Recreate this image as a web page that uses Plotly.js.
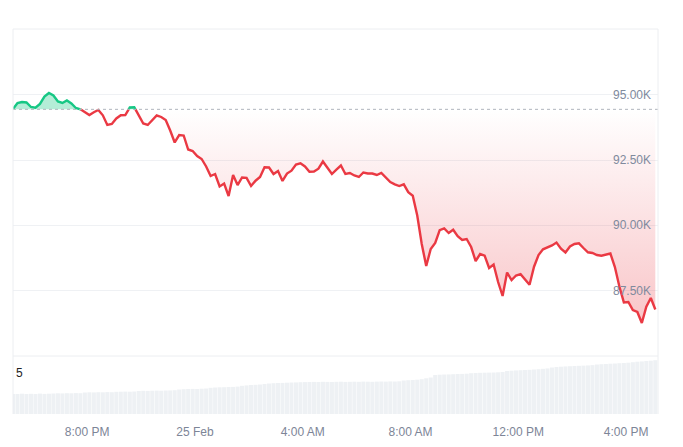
<!DOCTYPE html>
<html>
<head>
<meta charset="utf-8">
<script src="https://cdn.plot.ly/plotly-3.0.1.min.js"></script>
<style>html,body{margin:0;padding:0;background:#fff;}#chart{width:683px;height:447px;}</style>
</head>
<body>
<div id="chart"></div>
<script>
// ---- data (10-minute samples, 24 Feb 2025 17:15 -> 25 Feb 2025 17:05) ----
const startTime = "2025-02-24 17:15";
const stepMinutes = 10;
const prices = [
 94463,94693,94732,94712,94540,94513,94655,94942,95077,94981,
 94751,94693,94789,94674,94502,94452,94348,94233,94337,94425,
 94222,93850,93888,94099,94222,94233,94521,94530,94233,93907,
 93850,94042,94214,94157,94042,93639,93179,93466,93447,92910,
 92853,92661,92546,92259,91894,91971,91492,91607,91128,91933,
 91549,91837,91825,91511,91714,91856,92228,92220,91971,92086,
 91703,91990,92098,92335,92381,92259,92059,92067,92174,92450,
 92201,91971,92140,92297,91971,92009,91914,91856,92029,91990,
 91990,91933,92009,91818,91664,91576,91511,91576,91273,91139,
 90380,89287,88444,89096,89326,89816,89882,89709,89832,89586,
 89441,89479,89172,88635,88904,88842,88367,88501,87830,87294,
 88195,87907,88080,88130,87945,87723,88417,88866,89084,89161,
 89234,89345,89111,88961,89192,89287,89314,89134,88969,88942,
 88866,88839,88877,88923,88405,87658,87048,87064,86757,86680,
 86258,86883,87217,86776
];
const volumes = [
 20,20,20.3,20,20.2,20,20.4,20.1,20.3,20.5,
 20.7,20.6,20.8,20.7,20.9,20.8,
 21.5,21.7,21.6,21.8,21.7,21.9,21.8,
 22.2,22.3,22.4,22.3,22.5,
 23,23.2,23.1,23.3,23.4,23.3,23.5,23.6,23.8,
 24.5,24.8,25,25.1,25,25.3,25.5,
 26.2,26.5,26.7,26.8,27,27.1,27.4,
 28.2,28.6,29,29.2,29.5,30,
 30.5,30.8,31,31.1,31.3,31.5,31.6,31.8,
 31.9,32,32.1,32,32.2,32.1,32,32.2,32.3,32.1,32.2,32.3,32.2,32.4,32.3,32.2,32.4,32.5,32.4,32.6,32.5,32.7,
 33.5,33.8,34,34.3,34.8,
 35.7,36.5,
 39,39.3,39.5,39.6,39.8,40,40.1,40.3,
 40.8,41,41.2,41.3,41.4,41.5,41.7,42,
 43,43.3,43.6,43.8,44,44.2,44.5,44.8,45.2,45.6,
 46.5,47,47.3,47.6,47.8,48,48.2,48.4,48.6,48.9,
 49.5,49.8,50,50.3,50.5,50.8,51,51.3,51.8,
 52.3,52.6,53,53.3,53.8
];
const baseline = 94450;
const xTickVals = ["2025-02-24 20:00","2025-02-25 00:00","2025-02-25 04:00","2025-02-25 08:00","2025-02-25 12:00","2025-02-25 16:00"];
const xTickText = ["8:00 PM","25 Feb","4:00 AM","8:00 AM","12:00 PM","4:00 PM"];
const yTickVals = [87500, 90000, 92500, 95000];
const yTickText = ["87.50K","90.00K","92.50K","95.00K"];
const volumeLabel = "5";

// ---- build time axis ----
const t0 = Date.UTC(2025,1,24,17,15);
const times = prices.map((_, i) => t0 + i * stepMinutes * 60000);

// split into above / below baseline with crossing points
const xs = [], upFill = [], dnFill = [], gLine = [], rLine = [], baseY = [];
for (let i = 0; i < prices.length; i++) {
  if (i > 0) {
    const a = prices[i-1] - baseline, b = prices[i] - baseline;
    if (a * b < 0) {
      const f = (baseline - prices[i-1]) / (prices[i] - prices[i-1]);
      xs.push(times[i-1] + f * (times[i] - times[i-1]));
      upFill.push(baseline); dnFill.push(baseline);
      gLine.push(baseline); rLine.push(baseline); baseY.push(baseline);
    }
  }
  const p = prices[i];
  xs.push(times[i]);
  upFill.push(Math.max(p, baseline));
  dnFill.push(Math.min(p, baseline));
  gLine.push(p >= baseline ? p : null);
  rLine.push(p < baseline ? p : null);
  baseY.push(baseline);
}

const GREEN = "#16c784", RED = "#ea3943";
const volDomainTop = 0.1506;

const traces = [
  {x: xs, y: baseY, type: "scatter", mode: "lines", line: {width: 0, color: "rgba(0,0,0,0)"}, hoverinfo: "skip", showlegend: false},
  {x: xs, y: upFill, type: "scatter", mode: "lines", line: {width: 0, color: "rgba(0,0,0,0)"}, fill: "tonexty", fillcolor: "rgba(22,199,132,0.32)", hoverinfo: "skip", showlegend: false},
  {x: xs, y: baseY, type: "scatter", mode: "lines", line: {width: 0, color: "rgba(0,0,0,0)"}, hoverinfo: "skip", showlegend: false},
  {x: xs, y: dnFill, type: "scatter", mode: "lines", line: {width: 0, color: "rgba(0,0,0,0)"}, fill: "tonexty",
   fillgradient: {type: "vertical", start: 86000, stop: baseline, colorscale: [[0, "rgba(234,57,67,0.30)"], [1, "rgba(234,57,67,0.0)"]]},
   hoverinfo: "skip", showlegend: false},
  {x: xs, y: rLine, type: "scatter", mode: "lines", line: {width: 2.4, color: RED}, connectgaps: false, hoverinfo: "skip", showlegend: false},
  {x: xs, y: gLine, type: "scatter", mode: "lines", line: {width: 2.4, color: GREEN}, connectgaps: false, hoverinfo: "skip", showlegend: false},
  {x: times, y: volumes, type: "bar", yaxis: "y2", marker: {color: "#eef1f4", line: {width: 0}}, hoverinfo: "skip", showlegend: false}
];

const borderColor = "#eceef1";

// y tick labels drawn as annotations at the tick values (right-aligned inside the plot)
const yLabelAnnotations = yTickVals.map((v, i) => ({
  text: yTickText[i], xref: "paper", yref: "y", x: 1, y: v, xanchor: "right", yanchor: "middle",
  xshift: -5, showarrow: false, font: {size: 12, color: "#808a9d"}
}));

const layout = {
  width: 683, height: 447,
  margin: {l: 13, r: 25, t: 29, b: 33, pad: 0},
  paper_bgcolor: "#ffffff", plot_bgcolor: "#ffffff",
  font: {family: "Liberation Sans, Arial, sans-serif", size: 12, color: "#7d8597"},
  showlegend: false,
  bargap: 0.1,
  xaxis: {
    type: "date",
    anchor: "y2",
    range: [Date.UTC(2025,1,24,17,15), Date.UTC(2025,1,25,17,11)],
    tickvals: xTickVals, ticktext: xTickText,
    showgrid: false, zeroline: false, showline: false,
    ticks: "outside", ticklen: 7, tickcolor: "rgba(0,0,0,0)",
    tickfont: {size: 12, color: "#7d8597"}
  },
  yaxis: {
    domain: [volDomainTop, 1],
    range: [84993, 97530],
    side: "right",
    tickvals: yTickVals,
    showticklabels: false,
    ticks: "",
    showgrid: true, gridcolor: "#eff1f4", gridwidth: 1,
    zeroline: false, showline: false
  },
  yaxis2: {
    domain: [0, volDomainTop],
    range: [0, 58],
    showgrid: false, zeroline: false, showticklabels: false, showline: false
  },
  shapes: [
    {type: "line", xref: "paper", yref: "y", x0: 0, x1: 1, y0: baseline, y1: baseline,
     line: {color: "#b0b5bd", width: 1, dash: "dot"}},
    {type: "line", xref: "paper", yref: "paper", x0: 0, x1: 1, y0: 1, y1: 1, line: {color: borderColor, width: 1}},
    {type: "line", xref: "paper", yref: "paper", x0: 0, x1: 1, y0: volDomainTop, y1: volDomainTop, line: {color: borderColor, width: 1}},
    {type: "line", xref: "paper", yref: "paper", x0: 0, x1: 0, y0: 0, y1: 1, line: {color: borderColor, width: 1}},
    {type: "line", xref: "paper", yref: "paper", x0: 1, x1: 1, y0: 0, y1: 1, line: {color: borderColor, width: 1}}
  ],
  annotations: yLabelAnnotations.concat([
    {text: volumeLabel, xref: "paper", yref: "paper", x: 0, y: 0.1065, xanchor: "left", yanchor: "middle",
     xshift: 1, showarrow: false, font: {size: 12, color: "#222222"}}
  ])
};

Plotly.newPlot("chart", traces, layout, {displayModeBar: false, staticPlot: true});
</script>
</body>
</html>
